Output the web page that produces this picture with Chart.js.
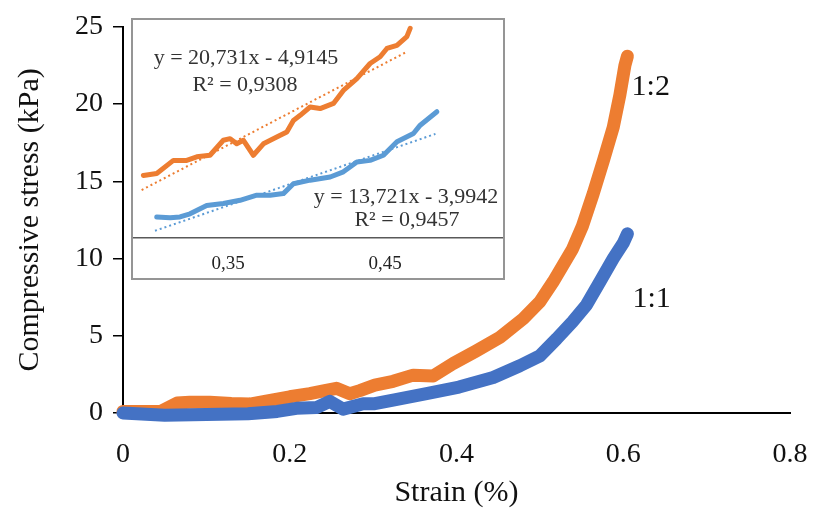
<!DOCTYPE html>
<html>
<head>
<meta charset="utf-8">
<script src="https://cdn.jsdelivr.net/npm/chart.js@4"></script>
<style>
  body { margin: 0; background: #fff; }
  #wrap { position: relative; width: 815px; height: 509px; }
  #inset {
    position: absolute; left: 131px; top: 18px;
    width: 370px; height: 258px;
    border: 2px solid #959595; background: #fff;
  }
</style>
</head>
<body>
<div id="wrap">
  <canvas id="myChart" width="815" height="509"></canvas>
  <div id="inset"><canvas id="insetChart" width="370" height="258"></canvas></div>
</div>
<script>
// main curves, 1:2 (orange) and 1:1 (blue)
const strain12 = [0, 0.02, 0.045, 0.065, 0.08, 0.104, 0.13, 0.152, 0.17, 0.185, 0.2, 0.224, 0.242, 0.256, 0.272, 0.284, 0.302, 0.324, 0.348, 0.372, 0.396, 0.423, 0.452, 0.48, 0.5, 0.516, 0.539, 0.551, 0.564, 0.576, 0.588, 0.596, 0.602, 0.605];
const stress12 = [0.1, 0.1, 0.1, 0.65, 0.7, 0.7, 0.62, 0.58, 0.75, 0.9, 1.05, 1.25, 1.45, 1.6, 1.25, 1.45, 1.8, 2.05, 2.45, 2.4, 3.2, 4.0, 4.9, 6.1, 7.2, 8.5, 10.6, 12.1, 14.2, 16.3, 18.5, 20.6, 22.5, 23.1];
const strain11 = [0, 0.05, 0.1, 0.15, 0.185, 0.208, 0.232, 0.248, 0.264, 0.288, 0.302, 0.324, 0.364, 0.403, 0.444, 0.476, 0.5, 0.52, 0.539, 0.556, 0.572, 0.588, 0.6, 0.605];
const stress11 = [0, -0.15, -0.1, -0.05, 0.1, 0.3, 0.35, 0.75, 0.25, 0.6, 0.6, 0.83, 1.26, 1.68, 2.3, 3.06, 3.7, 4.8, 5.9, 7.0, 8.5, 10.0, 11.0, 11.6];

const xTicks = [0, 0.2, 0.4, 0.6, 0.8];
const yTicks = [0, 5, 10, 15, 20, 25];

// inset (zoom on the 0.3 - 0.48 part)
const insetStrain12 = [0.2961, 0.3046, 0.3152, 0.3237, 0.3301, 0.3385, 0.347, 0.3513, 0.3555, 0.3597, 0.3661, 0.3725, 0.381, 0.3874, 0.3916, 0.3959, 0.4022, 0.4086, 0.4171, 0.4234, 0.432, 0.4404, 0.4468, 0.4511, 0.4575, 0.4638, 0.4659];
const insetStress12 = [1.57, 1.62, 1.95, 1.95, 2.04, 2.08, 2.46, 2.5, 2.37, 2.46, 2.08, 2.37, 2.54, 2.67, 2.96, 3.09, 3.3, 3.26, 3.39, 3.72, 4.02, 4.4, 4.57, 4.78, 4.86, 5.08, 5.29];
const insetStrain11 = [0.3046, 0.3131, 0.3194, 0.3258, 0.3364, 0.347, 0.3576, 0.3683, 0.3768, 0.3852, 0.3916, 0.4022, 0.415, 0.4234, 0.432, 0.4404, 0.4489, 0.4575, 0.468, 0.4723, 0.4829];
const insetStress11 = [0.52, 0.5, 0.52, 0.6, 0.81, 0.86, 0.94, 1.07, 1.07, 1.11, 1.36, 1.45, 1.53, 1.66, 1.91, 1.95, 2.08, 2.42, 2.63, 2.84, 3.18];
const trendStrain12 = [0.295, 0.464];
const trendStress12 = [1.2, 4.7];
const trendStrain11 = [0.3035, 0.482];
const trendStress11 = [0.17, 2.62];
const insetTicks = [0.35, 0.45];

const ORANGE = "#ED7D31";
const BLUE = "#4472C4";
const LIGHTBLUE = "#5B9BD5";
const SERIF = "'Liberation Serif', 'Times New Roman', serif";

function toPoints(xs, ys) {
  const pts = [];
  for (let i = 0; i < xs.length; i++) pts.push({ x: xs[i], y: ys[i] });
  return pts;
}

// "1:2" / "1:1" next to the curve ends
const seriesLabels = {
  id: "seriesLabels",
  afterDatasetsDraw(chart) {
    const ctx = chart.ctx;
    const xs = chart.scales.x, ys = chart.scales.y;
    ctx.save();
    ctx.font = "30px " + SERIF;
    ctx.fillStyle = "#111";
    ctx.textAlign = "center";
    ctx.textBaseline = "middle";
    ctx.fillText("1:2", xs.getPixelForValue(0.633), ys.getPixelForValue(21.1));
    ctx.fillText("1:1", xs.getPixelForValue(0.634), ys.getPixelForValue(7.4));
    ctx.restore();
  }
};

function renderChart() {
  const ctx = document.getElementById("myChart");
  new Chart(ctx, {
    type: "scatter",
    data: {
      datasets: [
        {
          label: "1:1",
          data: toPoints(strain11, stress11),
          showLine: true,
          borderColor: BLUE,
          borderWidth: 13,
          borderCapStyle: "round",
          borderJoinStyle: "round",
          pointRadius: 0,
          clip: false,
        },
        {
          label: "1:2",
          data: toPoints(strain12, stress12),
          showLine: true,
          borderColor: ORANGE,
          borderWidth: 13,
          borderCapStyle: "round",
          borderJoinStyle: "round",
          pointRadius: 0,
          clip: false,
        },
      ],
    },
    options: {
      responsive: false,
      animation: false,
      layout: { padding: { top: 21, right: 25, left: 0, bottom: 0 } },
      plugins: { legend: { display: false }, tooltip: { enabled: false } },
      scales: {
        x: {
          type: "linear",
          min: 0,
          max: 0.8,
          afterFit(s) { s.height = 96; s.paddingLeft = 0; s.paddingRight = 0; },
          afterBuildTicks(s) { s.ticks = xTicks.map(v => ({ value: v })); },
          grid: { drawOnChartArea: false, drawTicks: false },
          border: { display: true, color: "#000", width: 2 },
          ticks: {
            padding: 25,
            color: "#111",
            font: { family: SERIF, size: 28 },
            callback: v => String(v),
          },
          title: {
            display: true,
            text: "Strain (%)",
            color: "#111",
            font: { family: SERIF, size: 30, lineHeight: 1 },
            padding: { top: 0, bottom: 1 },
          },
        },
        y: {
          min: 0,
          max: 25,
          afterFit(s) { s.width = 123; },
          afterBuildTicks(s) { s.ticks = yTicks.map(v => ({ value: v })); },
          grid: { drawOnChartArea: false, drawTicks: true, tickLength: 10, color: "#000", lineWidth: 1.5 },
          border: { display: true, color: "#000", width: 2 },
          ticks: {
            padding: 10,
            color: "#111",
            font: { family: SERIF, size: 28 },
          },
          title: {
            display: true,
            text: "Compressive stress (kPa)",
            color: "#111",
            font: { family: SERIF, size: 30, lineHeight: 1 },
            padding: { top: 15, bottom: 0 },
          },
        },
      },
    },
    plugins: [seriesLabels],
  });
}

// trend line equations inside the inset
const insetLabels = {
  id: "insetLabels",
  afterDatasetsDraw(chart) {
    const ctx = chart.ctx;
    ctx.save();
    ctx.font = "22px " + SERIF;
    ctx.fillStyle = "#333";
    ctx.textAlign = "center";
    ctx.textBaseline = "middle";
    ctx.fillText("y = 20,731x - 4,9145", 113, 38);
    ctx.fillText("R² = 0,9308", 112, 65);
    ctx.fillText("y = 13,721x - 3,9942", 273, 177);
    ctx.fillText("R² = 0,9457", 274, 200);
    ctx.restore();
  }
};

function renderInset() {
  const ctx = document.getElementById("insetChart");
  new Chart(ctx, {
    type: "scatter",
    data: {
      datasets: [
        {
          data: toPoints(trendStrain12, trendStress12),
          showLine: true,
          borderColor: ORANGE,
          borderWidth: 2,
          borderDash: [2, 3],
          pointRadius: 0,
        },
        {
          data: toPoints(trendStrain11, trendStress11),
          showLine: true,
          borderColor: LIGHTBLUE,
          borderWidth: 2,
          borderDash: [2, 3],
          pointRadius: 0,
        },
        {
          data: toPoints(insetStrain12, insetStress12),
          showLine: true,
          borderColor: ORANGE,
          borderWidth: 5,
          borderCapStyle: "round",
          borderJoinStyle: "round",
          pointRadius: 0,
        },
        {
          data: toPoints(insetStrain11, insetStress11),
          showLine: true,
          borderColor: LIGHTBLUE,
          borderWidth: 5,
          borderCapStyle: "round",
          borderJoinStyle: "round",
          pointRadius: 0,
        },
      ],
    },
    options: {
      responsive: false,
      animation: false,
      layout: { padding: 0 },
      plugins: { legend: { display: false }, tooltip: { enabled: false } },
      scales: {
        x: {
          type: "linear",
          min: 0.2895,
          max: 0.525,
          afterFit(s) { s.height = 40.5; s.paddingLeft = 0; s.paddingRight = 0; },
          afterBuildTicks(s) { s.ticks = insetTicks.map(v => ({ value: v })); },
          grid: { display: false },
          border: { display: true, color: "#595959", width: 1.5 },
          ticks: {
            padding: 7,
            color: "#222",
            font: { family: SERIF, size: 19 },
            callback: v => String(v).replace(".", ","),
          },
        },
        y: { display: false, min: 0, max: 5.5 },
      },
    },
    plugins: [insetLabels],
  });
}

renderChart();
renderInset();
</script>
</body>
</html>
